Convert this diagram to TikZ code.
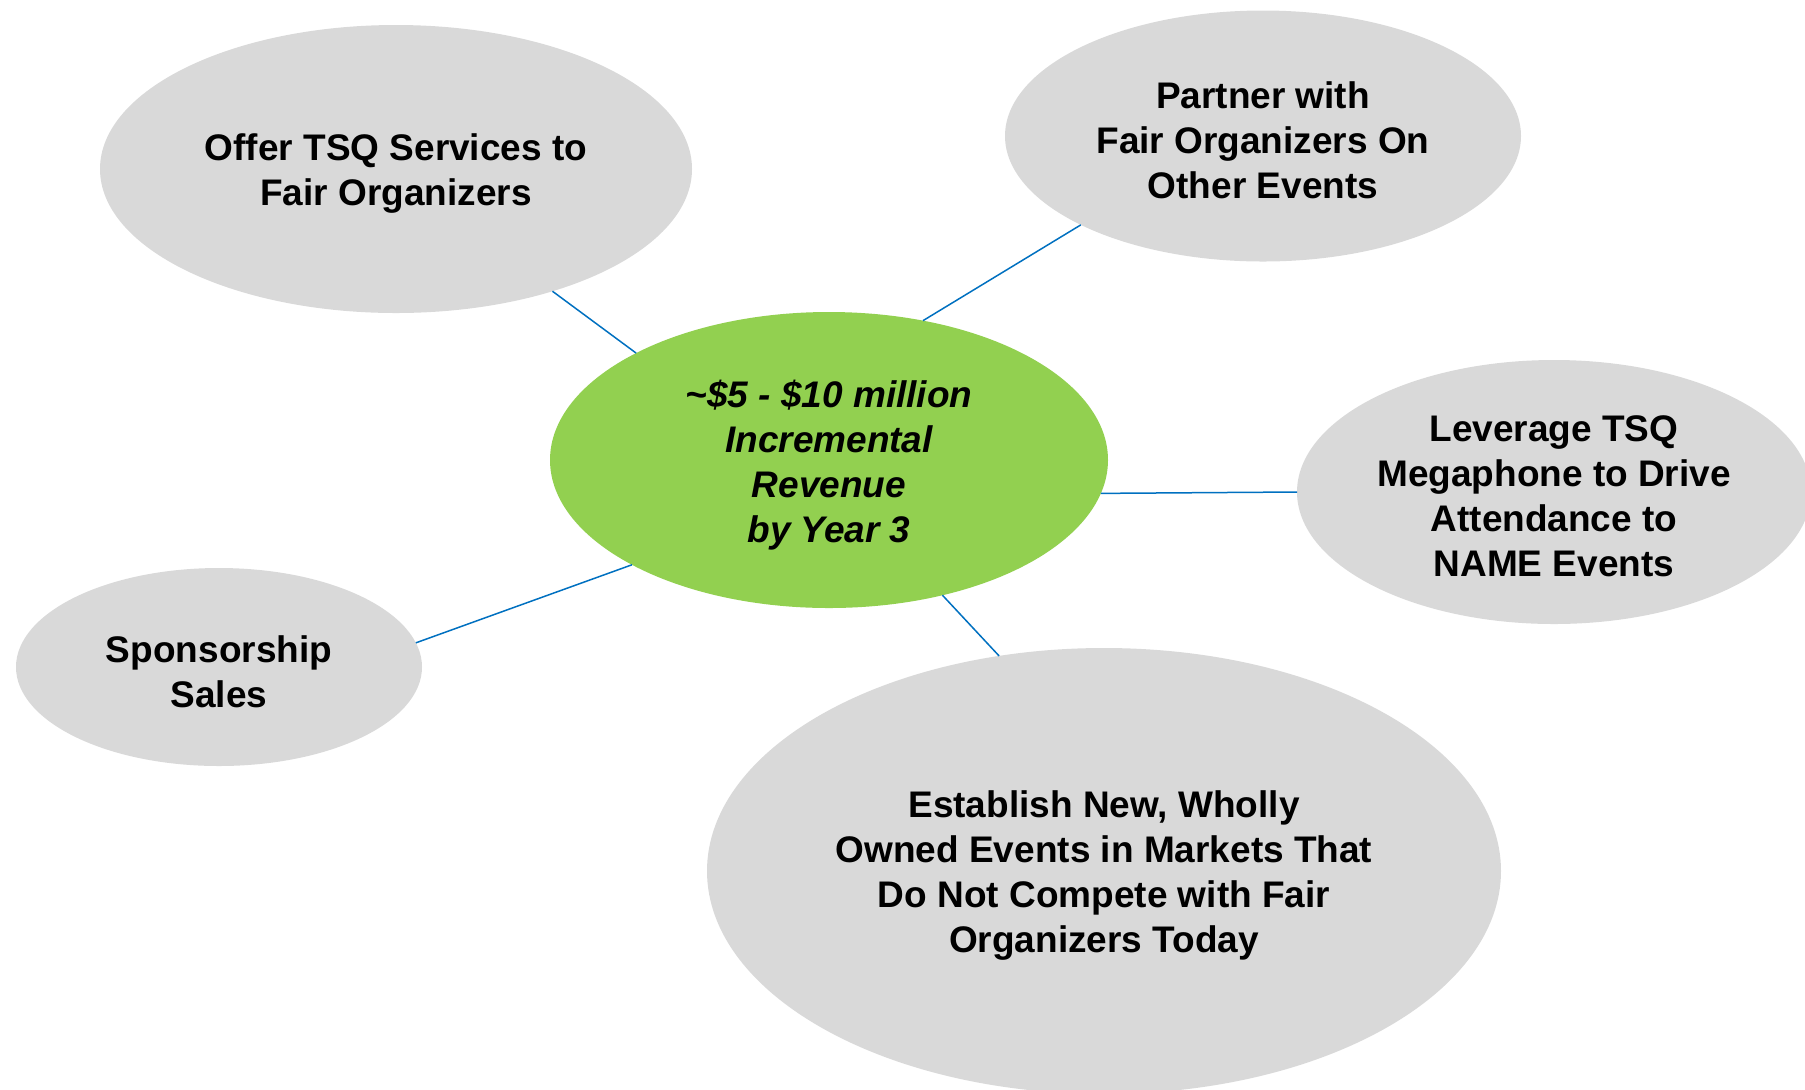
\documentclass[tikz,border=0pt]{standalone}
\usepackage{fontspec}
\setmainfont{Liberation Sans}
\usetikzlibrary{shapes.geometric}
\definecolor{bubblegray}{HTML}{D9D9D9}
\definecolor{hubgreen}{HTML}{92D050}
\definecolor{linkblue}{HTML}{0070C0}
\begin{document}
\begin{tikzpicture}[x=0.5pt,y=-0.5pt,
  bubble/.style={ellipse, fill=bubblegray, draw=none, inner sep=0pt, outer sep=0pt},
  hub/.style={bubble, fill=hubgreen},
  caption/.style={align=center, inner sep=0pt, yshift=-2.3pt,
    font=\fontsize{18.5}{22.5}\selectfont\bfseries},
  hubcaption/.style={caption, font=\fontsize{18.5}{22.5}\selectfont\bfseries\itshape},
  txt/.style={label={[caption]center:#1}},
  hubtxt/.style={label={[hubcaption]center:#1}},
  link/.style={draw=linkblue, line width=0.75pt}]
\useasboundingbox (0,0) rectangle (1805,1089);
\clip (0,0) rectangle (1805,1089);

% idea bubbles around the revenue hub
\node[bubble, minimum width=296pt, minimum height=144pt,
  txt={Offer TSQ Services to\\Fair Organizers}] (offer) at (396,169) {};
\node[bubble, minimum width=258pt, minimum height=125.5pt,
  txt={Partner with\\Fair Organizers On\\Other Events}] (partner) at (1263,136) {};
\node[hub, minimum width=279pt, minimum height=148pt,
  hubtxt={\textasciitilde\$5 - \$10 million\\Incremental\\Revenue\\by Year 3}] (hub) at (829,460) {};
\node[bubble, minimum width=257pt, minimum height=132pt,
  txt={Leverage TSQ\\Megaphone to Drive\\Attendance to\\NAME Events}] (leverage) at (1554,492) {};
\node[bubble, minimum width=203pt, minimum height=99pt,
  txt={Sponsorship\\Sales}] (sponsor) at (219,667) {};
\node[bubble, minimum width=397pt, minimum height=223pt,
  txt={Establish New, Wholly\\Owned Events in Markets That\\Do Not Compete with Fair\\Organizers Today}] (establish) at (1104,871) {};

% spokes
\draw[link] (offer.322.2) -- (hub.151.9);
\draw[link] (hub.56.9) -- (partner.206.2);
\draw[link] (hub.353.2) -- (leverage.180);
\draw[link] (sponsor.7.5) -- (hub.208.1);
\draw[link] (hub.310.2) -- (establish.116.3);
\end{tikzpicture}
\end{document}
